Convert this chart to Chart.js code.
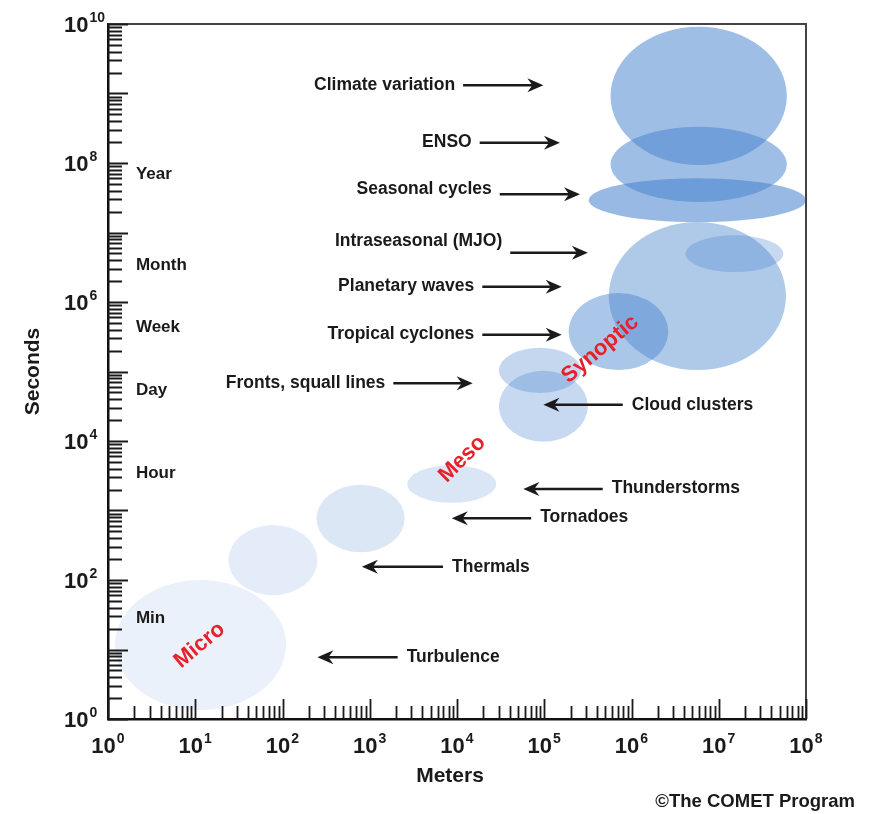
<!DOCTYPE html>
<html>
<head>
<meta charset="utf-8">
<title>Atmospheric space and time scales</title>
<script src="https://cdn.jsdelivr.net/npm/chart.js@4.4.0/dist/chart.umd.min.js"></script>
<style>
  html, body { margin: 0; padding: 0; background: #fff; }
</style>
</head>
<body>
<canvas id="scaleChart" width="875" height="814"></canvas>
<script>
// Phenomena, with the span of each one in space (meters) and time (seconds),
// given as powers of ten
var phenomena = ['Turbulence', 'Thermals', 'Tornadoes', 'Thunderstorms', 'Cloud clusters',
    'Fronts, squall lines', 'Tropical cyclones', 'Planetary waves', 'Intraseasonal (MJO)',
    'Seasonal cycles', 'ENSO', 'Climate variation'];
var metersFrom  = [0.08, 1.38, 2.39, 3.43, 4.48, 4.48, 5.28, 5.74, 6.62, 5.51, 5.76, 5.76];
var metersTo    = [2.04, 2.40, 3.40, 4.45, 5.50, 5.42, 6.42, 7.77, 7.74, 8.00, 7.78, 7.78];
var secondsFrom = [0.13, 1.78, 2.40, 3.11, 3.99, 4.69, 5.02, 5.02, 6.43, 7.15, 7.44, 7.97];
var secondsTo   = [2.00, 2.79, 3.37, 3.65, 5.01, 5.34, 6.13, 7.15, 6.96, 7.78, 8.52, 9.96];

// Tick decades (every decade gets ticks, labels as listed)
var xDecades = [0, 1, 2, 3, 4, 5, 6, 7, 8];
var yDecades = [0, 1, 2, 3, 4, 5, 6, 7, 8, 9, 10];
var xLabelDecades = [0, 1, 2, 3, 4, 5, 6, 7, 8];
var yLabelDecades = [0, 2, 4, 6, 8, 10];

// Time reference labels on the seconds axis
var timeNames = ['Min', 'Hour', 'Day', 'Week', 'Month', 'Year'];

// Regime labels
var regimes = ['Micro', 'Meso', 'Synoptic'];

// ---- layout of the labels (exponents in data space) ----
var arrowTail  = [3.32, 3.84, 4.85, 5.67, 5.90, 3.27, 4.29, 4.29, 4.61, 4.49, 4.26, 4.07];
var arrowHead  = [2.40, 2.91, 3.94, 4.76, 4.99, 4.18, 5.20, 5.20, 5.50, 5.41, 5.18, 4.99];
var arrowY     = [0.89, 2.19, 2.89, 3.31, 4.52, 4.83, 5.53, 6.22, 6.71, 7.55, 8.29, 9.12];
var labelY     = [0.89, 2.19, 2.91, 3.32, 4.52, 4.83, 5.53, 6.23, 6.88, 7.63, 8.30, 9.12];
var timeX = 0.32;
var timeY = [1.45, 3.53, 4.73, 5.63, 6.53, 7.84];
var regimeX = [1.05, 4.06, 5.64];
var regimeY = [1.06, 3.74, 5.32];
var regimeAngle = [-40, -45, -40];

// ---- styles ----
var bubbleRGB = '70, 130, 205';
var bubbleAlpha = [0.11, 0.15, 0.19, 0.2, 0.3, 0.32, 0.46, 0.43, 0.3, 0.56, 0.52, 0.52];
var FONT = '"Liberation Sans", Arial, Helvetica, sans-serif';
var INK = '#1a1a1a';

var centers = phenomena.map(function (name, i) {
    return {
        x: Math.pow(10, (metersFrom[i] + metersTo[i]) / 2),
        y: Math.pow(10, (secondsFrom[i] + secondsTo[i]) / 2)
    };
});

function pow10(e) { return Math.pow(10, e); }

function drawArrow(ctx, x1, y, x2) {
    var dir = x2 > x1 ? 1 : -1;
    ctx.strokeStyle = INK;
    ctx.fillStyle = INK;
    ctx.lineWidth = 2.5;
    ctx.beginPath();
    ctx.moveTo(x1, y);
    ctx.lineTo(x2 - dir * 8, y);
    ctx.stroke();
    ctx.beginPath();
    ctx.moveTo(x2, y);
    ctx.lineTo(x2 - dir * 16, y - 7);
    ctx.lineTo(x2 - dir * 11, y);
    ctx.lineTo(x2 - dir * 16, y + 7);
    ctx.closePath();
    ctx.fill();
}

function drawPower(ctx, exp, x, yMid, align) {
    ctx.fillStyle = INK;
    ctx.textAlign = 'left';
    ctx.textBaseline = 'alphabetic';
    ctx.font = 'bold 22px ' + FONT;
    var w10 = ctx.measureText('10').width;
    ctx.font = 'bold 14px ' + FONT;
    var wSup = ctx.measureText(String(exp)).width;
    var total = w10 + 1 + wSup;
    var start = align === 'center' ? x - total / 2 : x;
    var base = yMid + 8;
    ctx.font = 'bold 22px ' + FONT;
    ctx.fillText('10', start, base);
    ctx.font = 'bold 14px ' + FONT;
    ctx.fillText(String(exp), start + w10 + 1, base - 10);
}

var bubblePlugin = {
    id: 'bubbles',
    beforeDatasetsDraw: function (chart) {
        var ctx = chart.ctx, xs = chart.scales.x, ys = chart.scales.y, area = chart.chartArea;
        ctx.save();
        ctx.beginPath();
        ctx.rect(area.left, area.top, area.right - area.left, area.bottom - area.top);
        ctx.clip();
        for (var i = 0; i < phenomena.length; i++) {
            var x0 = xs.getPixelForValue(pow10(metersFrom[i]));
            var x1 = xs.getPixelForValue(pow10(metersTo[i]));
            var y0 = ys.getPixelForValue(pow10(secondsFrom[i]));
            var y1 = ys.getPixelForValue(pow10(secondsTo[i]));
            ctx.fillStyle = 'rgba(' + bubbleRGB + ', ' + bubbleAlpha[i] + ')';
            ctx.beginPath();
            ctx.ellipse((x0 + x1) / 2, (y0 + y1) / 2, Math.abs(x1 - x0) / 2, Math.abs(y1 - y0) / 2, 0, 0, Math.PI * 2);
            ctx.fill();
        }
        ctx.restore();
    },
    afterDraw: function (chart) {
        var ctx = chart.ctx, xs = chart.scales.x, ys = chart.scales.y, area = chart.chartArea;
        var i, d, m, p;
        ctx.save();

        // top and right frame
        ctx.strokeStyle = '#444';
        ctx.lineWidth = 2;
        ctx.beginPath();
        ctx.moveTo(area.left, area.top);
        ctx.lineTo(area.right, area.top);
        ctx.lineTo(area.right, area.bottom);
        ctx.stroke();

        // inward log ticks
        ctx.strokeStyle = INK;
        ctx.lineWidth = 1.8;
        ctx.beginPath();
        for (i = 0; i < yDecades.length; i++) {
            d = yDecades[i];
            for (m = 1; m <= 9; m++) {
                if (d === yDecades[yDecades.length - 1] && m > 1) break;
                p = Math.round(ys.getPixelForValue(m * pow10(d))) + 0.5;
                ctx.moveTo(area.left, p);
                ctx.lineTo(area.left + (m === 1 ? 20 : 14), p);
            }
        }
        for (i = 0; i < xDecades.length; i++) {
            d = xDecades[i];
            for (m = 1; m <= 9; m++) {
                if (d === xDecades[xDecades.length - 1] && m > 1) break;
                p = Math.round(xs.getPixelForValue(m * pow10(d))) + 0.5;
                ctx.moveTo(p, area.bottom);
                ctx.lineTo(p, area.bottom - (m === 1 ? 20 : 13));
            }
        }
        ctx.stroke();

        // tick labels
        yLabelDecades.forEach(function (e) {
            drawPower(ctx, e, 64, ys.getPixelForValue(pow10(e)), 'left');
        });
        xLabelDecades.forEach(function (e) {
            drawPower(ctx, e, xs.getPixelForValue(pow10(e)), area.bottom + 26, 'center');
        });

        // time reference labels
        ctx.fillStyle = INK;
        ctx.font = 'bold 17px ' + FONT;
        ctx.textAlign = 'left';
        ctx.textBaseline = 'middle';
        timeNames.forEach(function (t, k) {
            ctx.fillText(t, xs.getPixelForValue(pow10(timeX)), ys.getPixelForValue(pow10(timeY[k])));
        });

        // phenomenon labels with arrows
        ctx.font = 'bold 17.5px ' + FONT;
        phenomena.forEach(function (name, k) {
            var tx = xs.getPixelForValue(pow10(arrowTail[k]));
            var hx = xs.getPixelForValue(pow10(arrowHead[k]));
            var ay = ys.getPixelForValue(pow10(arrowY[k]));
            var ly = ys.getPixelForValue(pow10(labelY[k]));
            drawArrow(ctx, tx, ay, hx);
            ctx.fillStyle = INK;
            ctx.textBaseline = 'middle';
            if (hx > tx) {
                ctx.textAlign = 'right';
                ctx.fillText(name, tx - 8, ly);
            } else {
                ctx.textAlign = 'left';
                ctx.fillText(name, tx + 9, ly);
            }
        });

        // regime labels
        ctx.fillStyle = '#e8202a';
        ctx.font = 'bold 22px ' + FONT;
        ctx.textAlign = 'center';
        ctx.textBaseline = 'middle';
        regimes.forEach(function (r, k) {
            ctx.save();
            ctx.translate(xs.getPixelForValue(pow10(regimeX[k])), ys.getPixelForValue(pow10(regimeY[k])));
            ctx.rotate(regimeAngle[k] * Math.PI / 180);
            ctx.fillText(r, 0, 0);
            ctx.restore();
        });

        // axis titles
        ctx.fillStyle = INK;
        ctx.font = 'bold 21px ' + FONT;
        ctx.save();
        ctx.translate(33, (area.top + area.bottom) / 2);
        ctx.rotate(-Math.PI / 2);
        ctx.fillText('Seconds', 0, 0);
        ctx.restore();
        ctx.fillText('Meters', (area.left + area.right) / 2 - 7, area.bottom + 57);

        // credit
        ctx.font = 'bold 18.5px ' + FONT;
        ctx.textAlign = 'right';
        ctx.fillText('\u00A9The COMET Program', 855, 802);

        ctx.restore();
    }
};

var ctx = document.getElementById('scaleChart').getContext('2d');
var scaleChart = new Chart(ctx, {
    type: 'scatter',
    data: {
        datasets: [{
            label: 'Atmospheric scales',
            data: centers,
            pointRadius: 0,
            pointHoverRadius: 0
        }]
    },
    options: {
        responsive: false,
        animation: false,
        layout: { padding: { left: 108, top: 24, right: 69, bottom: 95 } },
        plugins: {
            legend: { display: false },
            tooltip: { enabled: false }
        },
        scales: {
            x: {
                type: 'logarithmic',
                min: 1,
                max: 1e8,
                ticks: { display: false },
                grid: { drawOnChartArea: false, drawTicks: false },
                border: { color: '#111', width: 2.5 }
            },
            y: {
                type: 'logarithmic',
                min: 1,
                max: 1e10,
                ticks: { display: false },
                grid: { drawOnChartArea: false, drawTicks: false },
                border: { color: '#111', width: 2.5 }
            }
        }
    },
    plugins: [bubblePlugin]
});
</script>
</body>
</html>
